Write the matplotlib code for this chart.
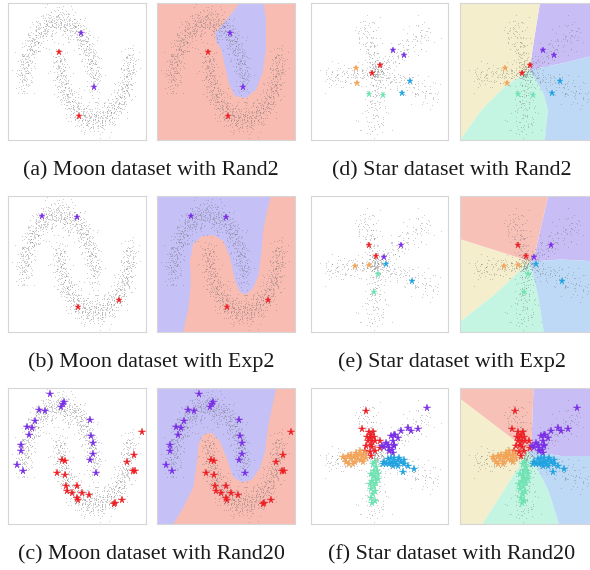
import numpy as np
import matplotlib
matplotlib.use("Agg")
import matplotlib.pyplot as plt
from matplotlib.patches import Polygon

# ---------------- data ----------------
# Moon dataset: labelled points (stars) for each setting
moon_rand2_purple = [(0.61, 0.82), (0.99, 0.00)]
moon_rand2_red = [(-0.01, 0.54), (0.56, -0.44)]
moon_exp2_purple = [(-0.47, 0.97), (0.50, 0.96)]
moon_exp2_red = [(0.52, -0.42), (1.69, -0.32)]
moon_rand20_purple = [(-0.25, 1.19), (0.14, 1.06), (0.05, 0.99), (0.11, 1.03), (-0.56, 0.94),
                      (-0.39, 0.92), (-0.68, 0.78), (-0.91, 0.68), (-0.75, 0.66), (-0.84, 0.56),
                      (-1.08, 0.40), (-1.07, 0.31), (-1.18, 0.10), (-1.03, 0.00), (0.86, 0.79),
                      (0.90, 0.55), (0.95, 0.44), (0.95, 0.27), (0.86, 0.17), (1.03, -0.02)]
moon_rand20_red = [(2.34, 0.61), (2.10, 0.25), (1.91, 0.14), (2.08, 0.01), (2.15, 0.00),
                   (0.09, 0.17), (0.18, 0.16), (-0.05, -0.03), (0.18, -0.06), (0.20, -0.23),
                   (0.51, -0.22), (0.22, -0.31), (0.37, -0.33), (0.64, -0.34), (0.83, -0.36),
                   (0.51, -0.41), (0.54, -0.44), (1.58, -0.48), (1.78, -0.44), (1.55, -0.51)]

# Moon decision regions
moon_rand2_blue_region = [(0.20, 0.82), (0.71, 1.15), (0.99, 1.35), (1.55, 1.35), (1.63, 1.02),
                          (1.63, 0.57), (1.53, 0.21), (1.35, -0.04), (1.06, -0.17), (0.76, -0.14),
                          (0.60, 0.03), (0.48, 0.31), (0.37, 0.57), (0.23, 0.69)]
moon_exp2_boundary = [(1.80, 1.35), (1.66, 1.04), (1.55, 0.74), (1.51, 0.43), (1.42, 0.07),
                      (1.27, -0.13), (1.09, -0.23), (0.90, -0.20), (0.76, -0.02), (0.62, 0.33),
                      (0.43, 0.59), (0.15, 0.68), (-0.18, 0.66), (-0.42, 0.54), (-0.51, 0.28),
                      (-0.49, -0.07), (-0.55, -0.43), (-0.74, -0.90)]
moon_rand20_boundary = [(1.95, 1.35), (1.84, 1.07), (1.70, 0.72), (1.61, 0.31), (1.46, 0.05),
                        (1.23, -0.13), (0.95, -0.17), (0.71, -0.09), (0.52, 0.21), (0.33, 0.46),
                        (0.11, 0.59), (-0.13, 0.57), (-0.27, 0.41), (-0.32, 0.11), (-0.42, -0.25),
                        (-0.70, -0.56), (-1.08, -0.90)]

# Star dataset: arm directions (deg) and lengths
star_classes = ["red", "purple", "blue", "green", "orange"]
star_arm_angle = [104.0, 40.0, -22.0, -93.0, 186.0]
star_arm_length = [1.05, 1.40, 1.35, 1.25, 1.05]

star_rand2 = {
    "red": [(0.08, 0.15), (-0.09, -0.01)],
    "purple": [(0.34, 0.44), (0.56, 0.34)],
    "blue": [(0.68, -0.18), (0.51, -0.41)],
    "green": [(-0.16, -0.43), (0.13, -0.45)],
    "orange": [(-0.42, 0.09), (-0.39, -0.21)],
}
star_exp2 = {
    "red": [(-0.16, 0.39), (-0.01, 0.18)],
    "purple": [(0.49, 0.40), (0.15, 0.15)],
    "blue": [(0.19, 0.00), (0.71, -0.33)],
    "green": [(0.03, -0.19), (-0.05, -0.55)],
    "orange": [(-0.44, -0.03), (-0.16, -0.01)],
}
star_rand20 = {
    "red": [(-0.22, 0.91), (-0.29, 0.55), (-0.16, 0.49), (-0.07, 0.49), (-0.11, 0.44),
            (-0.14, 0.37), (-0.05, 0.39), (-0.17, 0.31), (-0.09, 0.31), (-0.03, 0.32),
            (-0.12, 0.24), (-0.21, 0.21), (-0.09, 0.19), (0.06, 0.31), (0.08, 0.17),
            (-0.24, 0.11), (-0.14, 0.09), (-0.04, 0.11), (-0.11, 0.01), (-0.19, 0.39)],
    "purple": [(1.01, 0.97), (0.63, 0.57), (0.69, 0.51), (0.83, 0.55), (0.49, 0.51),
               (0.36, 0.44), (0.29, 0.41), (0.33, 0.31), (0.36, 0.24), (0.23, 0.23),
               (0.16, 0.19), (0.26, 0.17), (0.31, 0.14), (0.36, 0.21), (0.19, 0.27),
               (0.11, 0.21), (0.43, 0.37), (0.33, 0.07), (0.25, 0.12), (0.37, 0.44)],
    "blue": [(0.16, -0.11), (0.23, -0.06), (0.29, -0.13), (0.36, -0.03), (0.43, -0.08),
             (0.49, -0.11), (0.56, -0.16), (0.39, -0.16), (0.33, -0.19), (0.26, -0.16),
             (0.19, -0.16), (0.46, -0.03), (0.36, -0.11), (0.53, -0.31), (0.75, -0.25),
             (0.63, -0.19), (0.29, -0.03), (0.13, -0.16), (0.43, -0.19), (0.56, -0.08)],
    "green": [(-0.07, -0.16), (-0.01, -0.21), (-0.05, -0.29), (0.03, -0.36), (-0.04, -0.43),
              (-0.09, -0.49), (-0.01, -0.53), (-0.06, -0.59), (-0.12, -0.66), (-0.03, -0.69),
              (-0.07, -0.76), (-0.11, -0.84), (-0.04, -0.89), (-0.09, -0.93), (0.01, -0.29),
              (-0.12, -0.36), (-0.03, -0.11), (0.03, -0.46), (-0.07, -0.39), (-0.14, -0.56)],
    "orange": [(-0.67, -0.01), (-0.61, -0.11), (-0.56, -0.15), (-0.51, 0.04), (-0.45, -0.01),
               (-0.41, 0.07), (-0.34, 0.04), (-0.27, 0.01), (-0.31, -0.08), (-0.37, -0.06),
               (-0.44, -0.11), (-0.52, -0.06), (-0.24, 0.07), (-0.21, -0.03), (-0.57, 0.01),
               (-0.47, -0.16), (-0.34, 0.11), (-0.27, -0.11), (-0.64, -0.06), (-0.39, 0.01)],
}

# Star decision regions: common centre + boundary polylines (ccw order) + region between
star_rand2_center = (0.07, 0.04)
star_rand2_bounds = [
    [(0.71, 0.17), (1.28, 0.31), (1.70, 0.38)],            # purple | blue
    [(0.18, 0.77), (0.28, 1.38), (0.30, 1.70)],            # beige | purple
    [(-0.42, -0.29), (-0.89, -0.76), (-1.29, -1.32), (-1.45, -1.70)],  # mint | beige
    [(0.35, -0.43), (0.44, -0.76), (0.38, -1.32), (0.37, -1.70)],      # blue | mint
]
star_rand2_regions = ["purple", "beige", "mint", "blue"]

star_exp2_center = (0.08, 0.06)
star_exp2_bounds = [
    [(0.71, 0.10), (1.28, 0.07), (1.70, 0.06)],            # purple | blue
    [(0.18, 0.23), (0.44, 1.37), (0.50, 1.70)],            # pink | purple
    [(-1.29, 0.50), (-1.70, 0.60)],                        # beige | pink
    [(-0.62, -0.60), (-1.29, -1.13), (-1.70, -1.42)],      # mint | beige
    [(0.25, -0.67), (0.35, -1.33), (0.37, -1.70)],         # blue | mint
]
star_exp2_regions = ["purple", "pink", "beige", "mint", "blue"]

star_rand20_center = (0.05, 0.11)
star_rand20_bounds = [
    [(0.71, 0.01), (1.28, 0.01), (1.70, 0.01)],            # purple | blue
    [(0.11, 0.24), (0.15, 1.37), (0.15, 1.70)],            # pink | purple
    [(-1.29, 1.14), (-1.70, 1.45)],                        # beige | pink
    [(-0.49, -0.76), (-0.85, -1.32), (-1.00, -1.70)],      # mint | beige
    [(0.45, -0.69), (0.65, -1.33), (0.68, -1.70)],         # blue | mint
]
star_rand20_regions = ["purple", "pink", "beige", "mint", "blue"]

captions = ["(a) Moon dataset with Rand2", "(d) Star dataset with Rand2",
            "(b) Moon dataset with Exp2", "(e) Star dataset with Exp2",
            "(c) Moon dataset with Rand20", "(f) Star dataset with Rand20"]

# ---------------- styles ----------------
STAR_COL = {"red": "#ee1f25", "purple": "#7a2ee6", "blue": "#1fa3e0",
            "green": "#6de3b2", "orange": "#f2a458"}
REG_COL = {"pink": "#f8c1b8", "purple": "#c9bdf6", "blue": "#bdd9f6",
           "mint": "#c3f5e2", "beige": "#f4eecd"}
MOON_PINK = "#f8bcb3"
MOON_BLUE = "#c5c1f7"
DOT = dict(s=0.6, c="#6e6e6e", alpha=0.38, linewidths=0, zorder=2)
MOON_XL, MOON_YL = (-1.44, 2.45), (-0.81, 1.28)
STAR_XL, STAR_YL = (-1.32, 1.44), (-1.36, 1.38)


def halton(n, base, skip=1):
    out = np.empty(n)
    for i in range(n):
        k, f, r = i + skip, 1.0, 0.0
        while k > 0:
            f /= base
            r += f * (k % base)
            k //= base
        out[i] = r
    return out


def normals(n, skip, b1=2, b2=3):
    u1 = halton(n, b1, skip)
    u2 = halton(n, b2, skip)
    rad = np.sqrt(-2 * np.log(u1))
    return rad * np.cos(2 * np.pi * u2), rad * np.sin(2 * np.pi * u2)


# background point clouds (texture of the datasets)
N_MOON = 750
t_up = np.pi * halton(N_MOON, 5, 1)
t_lo = np.pi * halton(N_MOON, 5, 900)
a1, b1 = normals(N_MOON, 1)
a2, b2 = normals(N_MOON, 900)
moon_x = np.concatenate([np.cos(t_up) + 0.12 * a1, 1 - np.cos(t_lo) + 0.12 * a2])
moon_y = np.concatenate([np.sin(t_up) + 0.11 * b1, 0.5 - np.sin(t_lo) + 0.11 * b2])

sx, sy = [], []
for i, (ang, L) in enumerate(zip(star_arm_angle, star_arm_length)):
    n = 140
    sk = 1 + 300 * i
    u = halton(n, 5, sk)
    s = L * u ** 1.15
    z1, z2 = normals(n, sk)
    perp = z1 * (0.07 + 0.07 * s)
    along = s + 0.07 * z2
    a = np.deg2rad(ang)
    sx.append(along * np.cos(a) - perp * np.sin(a))
    sy.append(along * np.sin(a) + perp * np.cos(a))
star_x = np.concatenate(sx)
star_y = np.concatenate(sy)

# ---------------- figure ----------------
W, H = 590, 570
fig = plt.figure(figsize=(W / 100, H / 100), dpi=100)
col_left = [8, 157, 311, 460]
col_w = [138, 138, 137, 138]
row_top = [3, 196, 388]
row_h = [137, 136, 136]


def add_ax(c, r):
    ax = fig.add_axes([col_left[c] / W, 1 - (row_top[r] + row_h[r]) / H,
                       col_w[c] / W, row_h[r] / H])
    ax.set_xticks([])
    ax.set_yticks([])
    for sp in ax.spines.values():
        sp.set_color("#d6d6d6")
        sp.set_linewidth(0.8)
    return ax


def stars(ax, pts, color, ms):
    p = np.array(pts)
    ax.plot(p[:, 0], p[:, 1], ls="none", marker="*", ms=ms, color=color,
            mec=color, mew=0.3, zorder=4)


def sector_polys(ax, center, bounds, regions):
    cx, cy = center
    box = [(1.7, 1.7), (-1.7, 1.7), (-1.7, -1.7), (1.7, -1.7)]
    ang = lambda p: np.arctan2(p[1] - cy, p[0] - cx) % (2 * np.pi)
    n = len(bounds)
    for i in range(n):
        bi, bj = bounds[i], bounds[(i + 1) % n]
        ai, aj = ang(bi[-1]), ang(bj[-1])
        span = (aj - ai) % (2 * np.pi)
        corners = sorted([c for c in box if (ang(c) - ai) % (2 * np.pi) < span],
                         key=lambda c: (ang(c) - ai) % (2 * np.pi))
        poly = [center] + list(bi) + corners + list(bj[::-1])
        ax.add_patch(Polygon(poly, closed=True, fc=REG_COL[regions[i]], ec="none", zorder=1))


moon_sets = [
    (moon_rand2_purple, moon_rand2_red, "rand2"),
    (moon_exp2_purple, moon_exp2_red, "exp2"),
    (moon_rand20_purple, moon_rand20_red, "rand20"),
]
for r, (pur, red, kind) in enumerate(moon_sets):
    ms = 5.5 if kind == "rand20" else 5
    for c in (0, 1):
        ax = add_ax(c, r)
        ax.set_xlim(*MOON_XL)
        ax.set_ylim(*MOON_YL)
        if c == 1:
            if kind == "rand2":
                ax.set_facecolor(MOON_PINK)
                ax.add_patch(Polygon(moon_rand2_blue_region, fc=MOON_BLUE, ec="none", zorder=1))
            else:
                ax.set_facecolor(MOON_BLUE)
                bnd = moon_exp2_boundary if kind == "exp2" else moon_rand20_boundary
                poly = list(bnd) + [(2.7, -0.95), (2.7, 1.4)]
                ax.add_patch(Polygon(poly, fc=MOON_PINK, ec="none", zorder=1))
        ax.scatter(moon_x, moon_y, **DOT)
        stars(ax, pur, STAR_COL["purple"], ms)
        stars(ax, red, STAR_COL["red"], ms)

star_sets = [
    (star_rand2, star_rand2_center, star_rand2_bounds, star_rand2_regions, 5),
    (star_exp2, star_exp2_center, star_exp2_bounds, star_exp2_regions, 5),
    (star_rand20, star_rand20_center, star_rand20_bounds, star_rand20_regions, 5.5),
]
for r, (lab, cen, bnds, regs, ms) in enumerate(star_sets):
    for c in (2, 3):
        ax = add_ax(c, r)
        ax.set_xlim(*STAR_XL)
        ax.set_ylim(*STAR_YL)
        if c == 3:
            sector_polys(ax, cen, bnds, regs)
        ax.scatter(star_x, star_y, **DOT)
        for k in star_classes:
            stars(ax, lab[k], STAR_COL[k], ms)

cap_x = [151, 452]
cap_y = [171, 362, 555]
for i, txt in enumerate(captions):
    fig.text(cap_x[i % 2] / W, 1 - cap_y[i // 2] / H, txt, ha="center", va="center",
             fontsize=15.8, family="Liberation Serif", color="#1a1a1a")

fig.savefig("out.png", dpi=100)
